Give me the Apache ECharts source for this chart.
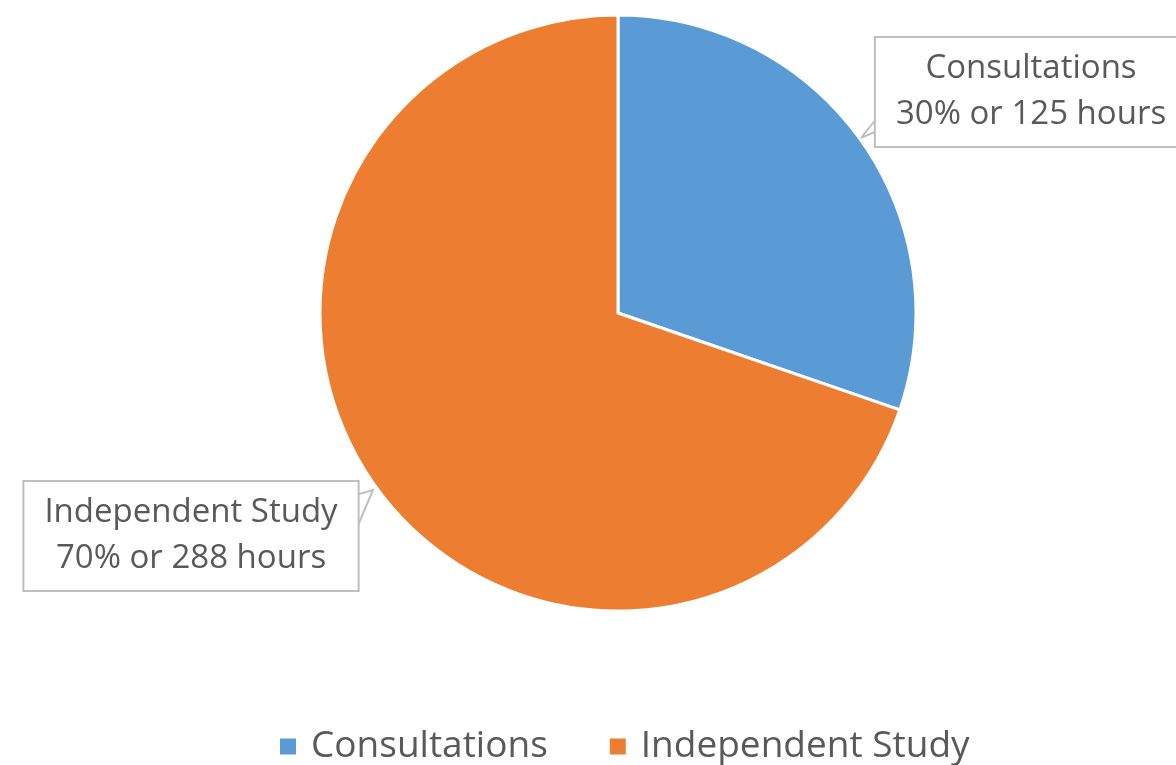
<!DOCTYPE html>
<html>
<head>
<meta charset="utf-8">
<script src="https://cdn.jsdelivr.net/npm/echarts@6/dist/echarts.min.js"></script>
<style>
  html, body { margin: 0; padding: 0; background: #fff; }
  #chart { width: 1176px; height: 765px; }
</style>
</head>
<body>
<div id="chart"></div>
<script>
const categories = ['Consultations', 'Independent Study']
const hours = [125, 288]
const percents = [30, 70]
const colors = ['#5B9BD5', '#ED7D31']

// label box centres and callout tails, in pixels
const labelPos = [
  { x: 1031, y: 92, line: [[877, 118], [861, 138], [877, 131]] },
  { x: 191, y: 536, line: [[356, 495], [373, 490], [356, 530]] }
]

const chart = echarts.init(document.getElementById('chart'))

const textFont = 'Open Sans'

chart.setOption({
  animation: false,
  color: colors,
  legend: {
    data: categories,
    top: 723,
    left: 273,
    icon: 'rect',
    itemWidth: 18,
    itemHeight: 18,
    itemGap: 60,
    formatter: name => '{t|' + name + '}',
    textStyle: {
      fontFamily: textFont, fontSize: 37, color: '#595959',
      rich: { t: { fontFamily: textFont, fontSize: 37, color: '#595959', padding: [0, 0, 0, 9] } }
    }
  },
  series: [
    {
      type: 'pie',
      // wide layout box so the label boxes are not squeezed by the chart edges
      left: -300,
      top: 0,
      width: 1900,
      height: 765,
      center: [918, 313],
      radius: [0, 298],
      startAngle: 90,
      clockwise: true,
      itemStyle: { borderColor: '#fff', borderWidth: 3 },
      data: categories.map((name, i) => ({ name, value: hours[i] })),
      label: {
        show: true,
        position: 'outside',
        overflow: 'none',
        formatter: p => p.name + '\n' + percents[p.dataIndex] + '% or ' + p.value + ' hours',
        fontFamily: textFont,
        fontSize: 33,
        lineHeight: 46,
        color: '#595959',
        align: 'center',
        backgroundColor: '#fff',
        borderColor: '#bfbfbf',
        borderWidth: 2,
        padding: [8, 20, 8, 20]
      },
      labelLine: {
        show: true,
        lineStyle: { color: '#bfbfbf', width: 2 }
      },
      labelLayout: p => ({
        x: labelPos[p.dataIndex].x,
        y: labelPos[p.dataIndex].y,
        align: 'center',
        verticalAlign: 'middle',
        labelLinePoints: labelPos[p.dataIndex].line
      })
    }
  ]
})
</script>
</body>
</html>
